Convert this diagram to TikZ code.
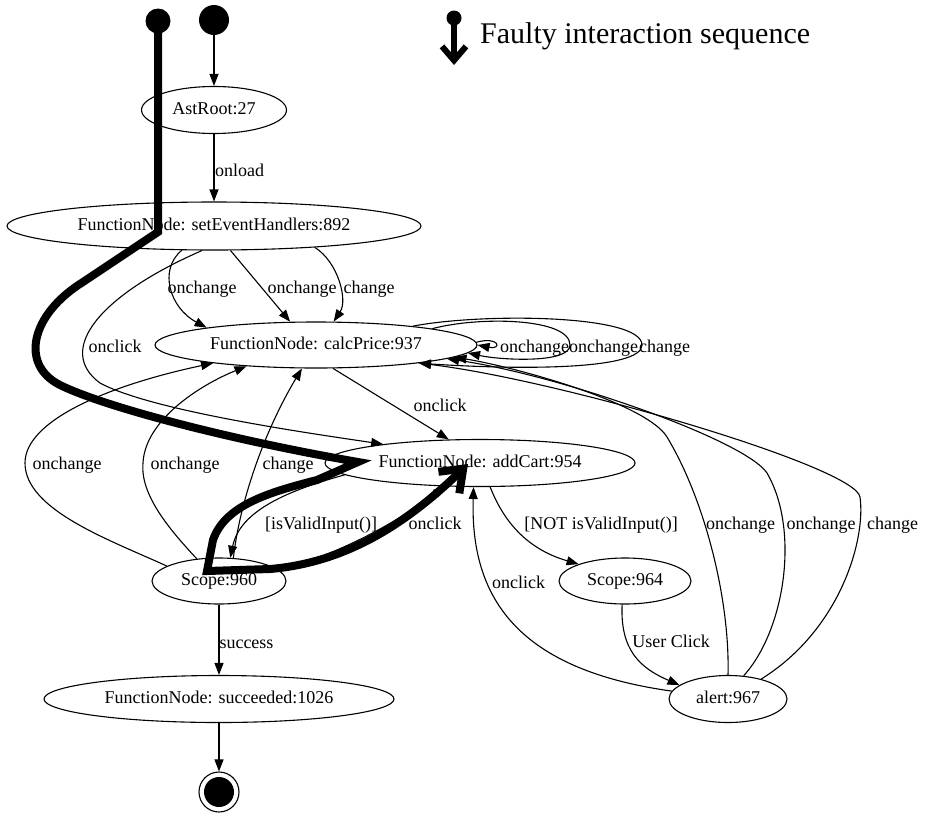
\documentclass[tikz,border=0pt]{standalone}
\usepackage{fontspec}
\setmainfont{Liberation Serif}
\usetikzlibrary{arrows.meta,shapes.geometric}
\begin{document}
\begin{tikzpicture}[x=1pt,y=-1pt,
  state/.style={draw, ellipse, line width=1.1pt, inner sep=0pt,
    text height=12.5pt, text depth=4pt, font=\fontsize{18}{20}\selectfont},
  edge/.style={draw, line width=1.1pt, -{Triangle[length=12pt,width=9pt]}},
  lbl/.style={inner sep=0pt, anchor=base, font=\fontsize{18}{20}\selectfont},
  dot/.style={circle, fill, inner sep=0pt},
  fault/.style={line width=8pt, line join=miter,
    -{Straight Barb[length=20pt,width=30pt]}},
  ]
\useasboundingbox (0,0) rectangle (928,814);

% ---------- states ----------
\node[dot, minimum size=25pt] (s1) at (158,21) {};
\node[dot, minimum size=30pt] (s2) at (214,20) {};
\node[state, minimum width=145pt, minimum height=47pt] (ast) at (214,110) {AstRoot:27};
\node[state, minimum width=414pt, minimum height=48pt] (seh) at (214,226) {FunctionNode: setEventHandlers:892};
\node[state, minimum width=322pt, minimum height=46pt] (calc) at (316,345) {FunctionNode: calcPrice:937};
\node[state, minimum width=310pt, minimum height=47pt] (add) at (480,463) {FunctionNode: addCart:954};
\node[state, minimum width=134pt, minimum height=46pt] (sc960) at (219,581) {Scope:960};
\node[state, minimum width=132pt, minimum height=46pt] (sc964) at (625,581) {Scope:964};
\node[state, minimum width=350pt, minimum height=47pt] (succ) at (219,699) {FunctionNode: succeeded:1026};
\node[state, minimum width=118pt, minimum height=47pt] (alert) at (728,699) {alert:967};
\node[circle, draw, line width=1.1pt, inner sep=0pt, minimum size=40pt] (fin) at (219,792) {};
\node[dot, minimum size=30pt] (finc) at (fin.center) {};

% ---------- transitions ----------
\draw[edge] (s2) -- (ast);
\draw[edge] (ast) -- (seh);
\node[lbl] (l1) at (239.5,176) {onload};

\draw[edge] (seh.-143) .. controls (158,270) and (170,308) .. (calc.171);
\node[lbl] (l2) at (202,293) {onchange};
\draw[edge] (seh.-56.3) -- (calc.138.9);
\node[lbl] (l3) at (302,293) {onchange};
\draw[edge] (seh.-12.5) .. controls (338,262) and (348,300) .. (calc.53.4);
\node[lbl] (l4) at (369,293) {change};

\draw[edge] (seh.-116.5) .. controls (100,295) and (55,350) .. (100,383)
  .. controls (150,410) and (300,432) .. (add.169.6);
\node[lbl] (l5) at (115,352) {onclick};

% self loops on calcPrice
\draw[edge] (calc.1.5) .. controls (500,336) and (502,350) .. (calc.east);
\draw[edge] (calc.8.1) .. controls (480,316) and (570,318) .. (570,345)
  .. controls (570,364) and (500,360) .. (calc.-3.3);
\draw[edge] (calc.11.3) .. controls (480,313) and (642,314) .. (642,345)
  .. controls (642,370) and (520,370) .. (calc.-10.9);
\node[lbl] (l6) at (534.5,352) {onchange};
\node[lbl] (l7) at (603.5,352) {onchange};
\node[lbl] (l8) at (664.5,352) {change};

\draw[edge] (calc.-54.9) -- (add.143.7);
\node[lbl] (l9) at (440,411) {onclick};

% Scope:960 back to calcPrice
\draw[edge] (sc960.164.4) .. controls (110,540) and (25,510) .. (25,463)
  .. controls (25,420) and (110,385) .. (calc.190.4);
\node[lbl] (l10) at (67,469) {onchange};
\draw[edge] (sc960.135.4) .. controls (170,530) and (140,495) .. (143,463)
  .. controls (145,420) and (200,385) .. (calc.-163.8);
\node[lbl] (l11) at (185,469) {onchange};
\draw[edge] (sc960.58.1) .. controls (240,500) and (265,430) .. (calc.-121.4);
\node[lbl] (l12) at (288,469) {change};

\draw[edge] (add.-175.3) .. controls (290,490) and (240,510) .. (sc960.64.1);
\node[lbl] (l13) at (321,529) {[isValidInput()]};
\draw[edge] (sc960.11.2) .. controls (340,555) and (400,520) .. (add.-146.2);
\node[lbl] (l14) at (435,529) {onclick};

\draw[edge] (add.-67.4) .. controls (505,525) and (530,550) .. (sc964.160);
\node[lbl] (l15) at (601,529) {[NOT isValidInput()]};

\draw[edge] (alert.172.5) .. controls (520,670) and (470,600) .. (add.-105);
\node[lbl] (l16) at (518.5,588) {onclick};
\draw[edge] (sc964.-97.4) .. controls (620,650) and (640,668) .. (alert.164.1);
\node[lbl] (l17) at (671,647) {User Click};

% alert back to calcPrice
\draw[edge] (alert.north) .. controls (730,600) and (705,500) .. (667,437)
  .. controls (647,404) and (520,368) .. (calc.-5.2);
\node[lbl] (l18) at (740.5,529) {onchange};
\draw[edge] (alert.56.5) .. controls (785,630) and (800,530) .. (767,473)
  .. controls (745,440) and (560,375) .. (calc.-6.5);
\node[lbl] (l19) at (821,529) {onchange};
\draw[edge] (alert.31.6) .. controls (840,630) and (866,540) .. (860,497)
  .. controls (856,467) and (560,380) .. (calc.-10);
\node[lbl] (l20) at (892.5,529) {change};

\draw[edge] (sc960) -- (succ);
\node[lbl] (l21) at (246.5,648) {success};
\draw[edge] (succ) -- (fin);

% ---------- faulty interaction sequence ----------
\coordinate (ftip) at (468,464);
\draw[fault] (s1.center) -- (158,232) -- (83,282)
  .. controls (30,315) and (20,365) .. (60,385)
  .. controls (100,405) and (220,438) .. (358,462)
  -- (317,480) .. controls (270,492) and (225,505) .. (213,540)
  -- (207,571) -- (270,569)
  .. controls (340,563) and (400,530) .. (ftip);

% ---------- legend ----------
\node[dot, minimum size=15pt] (lgdot) at (454,18) {};
\coordinate (lgend) at (454,65);
\draw[line width=6pt, -{Straight Barb[length=14pt,width=24pt]}] (lgdot.center) -- (lgend);
\node[anchor=base west, inner sep=0pt, font=\fontsize{30}{34}\selectfont] (lgtxt) at (480,43) {Faulty interaction sequence};
\end{tikzpicture}
\end{document}
